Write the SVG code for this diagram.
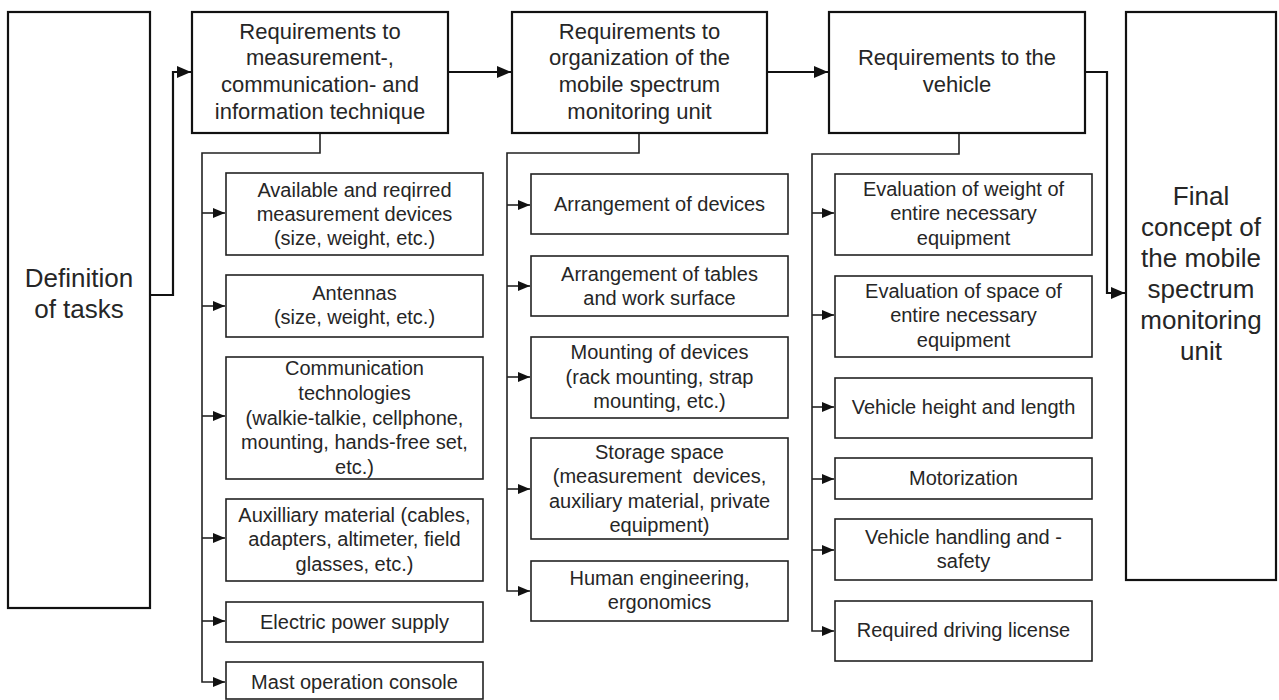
<svg xmlns="http://www.w3.org/2000/svg" width="1279" height="700" viewBox="0 0 1279 700">
<style>
.big{fill:#fff;stroke:#111;stroke-width:2.2}
.sub{fill:#fff;stroke:#222;stroke-width:1.6}
text{font-family:"Liberation Sans",Arial,sans-serif;fill:#262626;text-anchor:middle}
.t26{font-size:26px}
.t22{font-size:22px}
.t20{font-size:20px}
.c1{fill:none;stroke:#111;stroke-width:2.2}
.c2{fill:none;stroke:#222;stroke-width:1.6}
</style>
<defs>
<marker id="ah" markerWidth="14" markerHeight="12" refX="14" refY="6" orient="auto" markerUnits="userSpaceOnUse"><path d="M0,0 L14,6 L0,12 Z" fill="#111"/></marker>
<marker id="as" markerWidth="12" markerHeight="10" refX="12" refY="5" orient="auto" markerUnits="userSpaceOnUse"><path d="M0,0 L12,5 L0,10 Z" fill="#111"/></marker>
</defs>
<rect width="1279" height="700" fill="#fff"/>
<g id="connectors">
<path class="c1" d="M150,295 H173 V72 H191" marker-end="url(#ah)"/>
<path class="c1" d="M448,72 H511" marker-end="url(#ah)"/>
<path class="c1" d="M767,72 H828" marker-end="url(#ah)"/>
<path class="c1" d="M1085,72 H1107 V293 H1125" marker-end="url(#ah)"/>
<path class="c2" d="M320,133 V153 H202 V682 H225" marker-end="url(#as)"/>
<path class="c2" d="M202,213 H225" marker-end="url(#as)"/>
<path class="c2" d="M202,306 H225" marker-end="url(#as)"/>
<path class="c2" d="M202,416 H225" marker-end="url(#as)"/>
<path class="c2" d="M202,538 H225" marker-end="url(#as)"/>
<path class="c2" d="M202,621 H225" marker-end="url(#as)"/>
<path class="c2" d="M639,133 V153 H507 V591 H530" marker-end="url(#as)"/>
<path class="c2" d="M507,205 H530" marker-end="url(#as)"/>
<path class="c2" d="M507,286 H530" marker-end="url(#as)"/>
<path class="c2" d="M507,377 H530" marker-end="url(#as)"/>
<path class="c2" d="M507,489 H530" marker-end="url(#as)"/>
<path class="c2" d="M959,133 V154 H812 V631 H834" marker-end="url(#as)"/>
<path class="c2" d="M812,213 H834" marker-end="url(#as)"/>
<path class="c2" d="M812,315 H834" marker-end="url(#as)"/>
<path class="c2" d="M812,407 H834" marker-end="url(#as)"/>
<path class="c2" d="M812,479 H834" marker-end="url(#as)"/>
<path class="c2" d="M812,550 H834" marker-end="url(#as)"/>
</g>
<g id="definition">
<rect class="big" x="8" y="12" width="142" height="596"/>
<text class="t26" x="79" y="287">Definition</text>
<text class="t26" x="79" y="318">of tasks</text>
</g>
<g id="req-measurement">
<rect class="big" x="192" y="12" width="256" height="121"/>
<text class="t22" x="320" y="39">Requirements to</text>
<text class="t22" x="320" y="65">measurement-,</text>
<text class="t22" x="320" y="92">communication- and</text>
<text class="t22" x="320" y="119">information technique</text>
</g>
<g id="req-organization">
<rect class="big" x="512" y="12" width="255" height="121"/>
<text class="t22" x="639.5" y="39">Requirements to</text>
<text class="t22" x="639.5" y="65">organization of the</text>
<text class="t22" x="639.5" y="92">mobile spectrum</text>
<text class="t22" x="639.5" y="119">monitoring unit</text>
</g>
<g id="req-vehicle">
<rect class="big" x="829" y="12" width="256" height="121"/>
<text class="t22" x="957" y="65">Requirements to the</text>
<text class="t22" x="957" y="92">vehicle</text>
</g>
<g id="final">
<rect class="big" x="1126" y="12" width="150" height="568"/>
<text class="t26" x="1201" y="205">Final</text>
<text class="t26" x="1201" y="236">concept of</text>
<text class="t26" x="1201" y="267">the mobile</text>
<text class="t26" x="1201" y="298">spectrum</text>
<text class="t26" x="1201" y="329">monitoring</text>
<text class="t26" x="1201" y="360">unit</text>
</g>
<g id="m1">
<rect class="sub" x="226" y="173" width="257" height="82"/>
<text class="t20" x="354.5" y="197">Available and reqirred</text>
<text class="t20" x="354.5" y="221">measurement devices</text>
<text class="t20" x="354.5" y="245">(size, weight, etc.)</text>
</g>
<g id="m2">
<rect class="sub" x="226" y="275" width="257" height="62"/>
<text class="t20" x="354.5" y="300">Antennas</text>
<text class="t20" x="354.5" y="324">(size, weight, etc.)</text>
</g>
<g id="m3">
<rect class="sub" x="226" y="357" width="257" height="122"/>
<text class="t20" x="354.5" y="375">Communication</text>
<text class="t20" x="354.5" y="400">technologies</text>
<text class="t20" x="354.5" y="425">(walkie-talkie, cellphone,</text>
<text class="t20" x="354.5" y="449">mounting, hands-free set,</text>
<text class="t20" x="354.5" y="474">etc.)</text>
</g>
<g id="m4">
<rect class="sub" x="226" y="499" width="257" height="82"/>
<text class="t20" x="354.5" y="522">Auxilliary material (cables,</text>
<text class="t20" x="354.5" y="546">adapters, altimeter, field</text>
<text class="t20" x="354.5" y="571">glasses, etc.)</text>
</g>
<g id="m5">
<rect class="sub" x="226" y="602" width="257" height="40"/>
<text class="t20" x="354.5" y="629">Electric power supply</text>
</g>
<g id="m6">
<rect class="sub" x="226" y="662" width="257" height="37"/>
<text class="t20" x="354.5" y="689">Mast operation console</text>
</g>
<g id="o1">
<rect class="sub" x="531" y="174" width="257" height="60"/>
<text class="t20" x="659.5" y="211">Arrangement of devices</text>
</g>
<g id="o2">
<rect class="sub" x="531" y="256" width="257" height="60"/>
<text class="t20" x="659.5" y="281">Arrangement of tables</text>
<text class="t20" x="659.5" y="305">and work surface</text>
</g>
<g id="o3">
<rect class="sub" x="531" y="337" width="257" height="81"/>
<text class="t20" x="659.5" y="359">Mounting of devices</text>
<text class="t20" x="659.5" y="384">(rack mounting, strap</text>
<text class="t20" x="659.5" y="408">mounting, etc.)</text>
</g>
<g id="o4">
<rect class="sub" x="531" y="438" width="257" height="101"/>
<text class="t20" x="659.5" y="459">Storage space</text>
<text class="t20" x="659.5" y="483" xml:space="preserve">(measurement  devices,</text>
<text class="t20" x="659.5" y="508">auxiliary material, private</text>
<text class="t20" x="659.5" y="532">equipment)</text>
</g>
<g id="o5">
<rect class="sub" x="531" y="561" width="257" height="60"/>
<text class="t20" x="659.5" y="585">Human engineering,</text>
<text class="t20" x="659.5" y="609">ergonomics</text>
</g>
<g id="v1">
<rect class="sub" x="835" y="174" width="257" height="81"/>
<text class="t20" x="963.5" y="196">Evaluation of weight of</text>
<text class="t20" x="963.5" y="220">entire necessary</text>
<text class="t20" x="963.5" y="245">equipment</text>
</g>
<g id="v2">
<rect class="sub" x="835" y="276" width="257" height="81"/>
<text class="t20" x="963.5" y="298">Evaluation of space of</text>
<text class="t20" x="963.5" y="322">entire necessary</text>
<text class="t20" x="963.5" y="347">equipment</text>
</g>
<g id="v3">
<rect class="sub" x="835" y="378" width="257" height="60"/>
<text class="t20" x="963.5" y="414">Vehicle height and length</text>
</g>
<g id="v4">
<rect class="sub" x="835" y="458" width="257" height="41"/>
<text class="t20" x="963.5" y="485">Motorization</text>
</g>
<g id="v5">
<rect class="sub" x="835" y="519" width="257" height="61"/>
<text class="t20" x="963.5" y="544">Vehicle handling and -</text>
<text class="t20" x="963.5" y="568">safety</text>
</g>
<g id="v6">
<rect class="sub" x="835" y="601" width="257" height="60"/>
<text class="t20" x="963.5" y="637">Required driving license</text>
</g>
</svg>
